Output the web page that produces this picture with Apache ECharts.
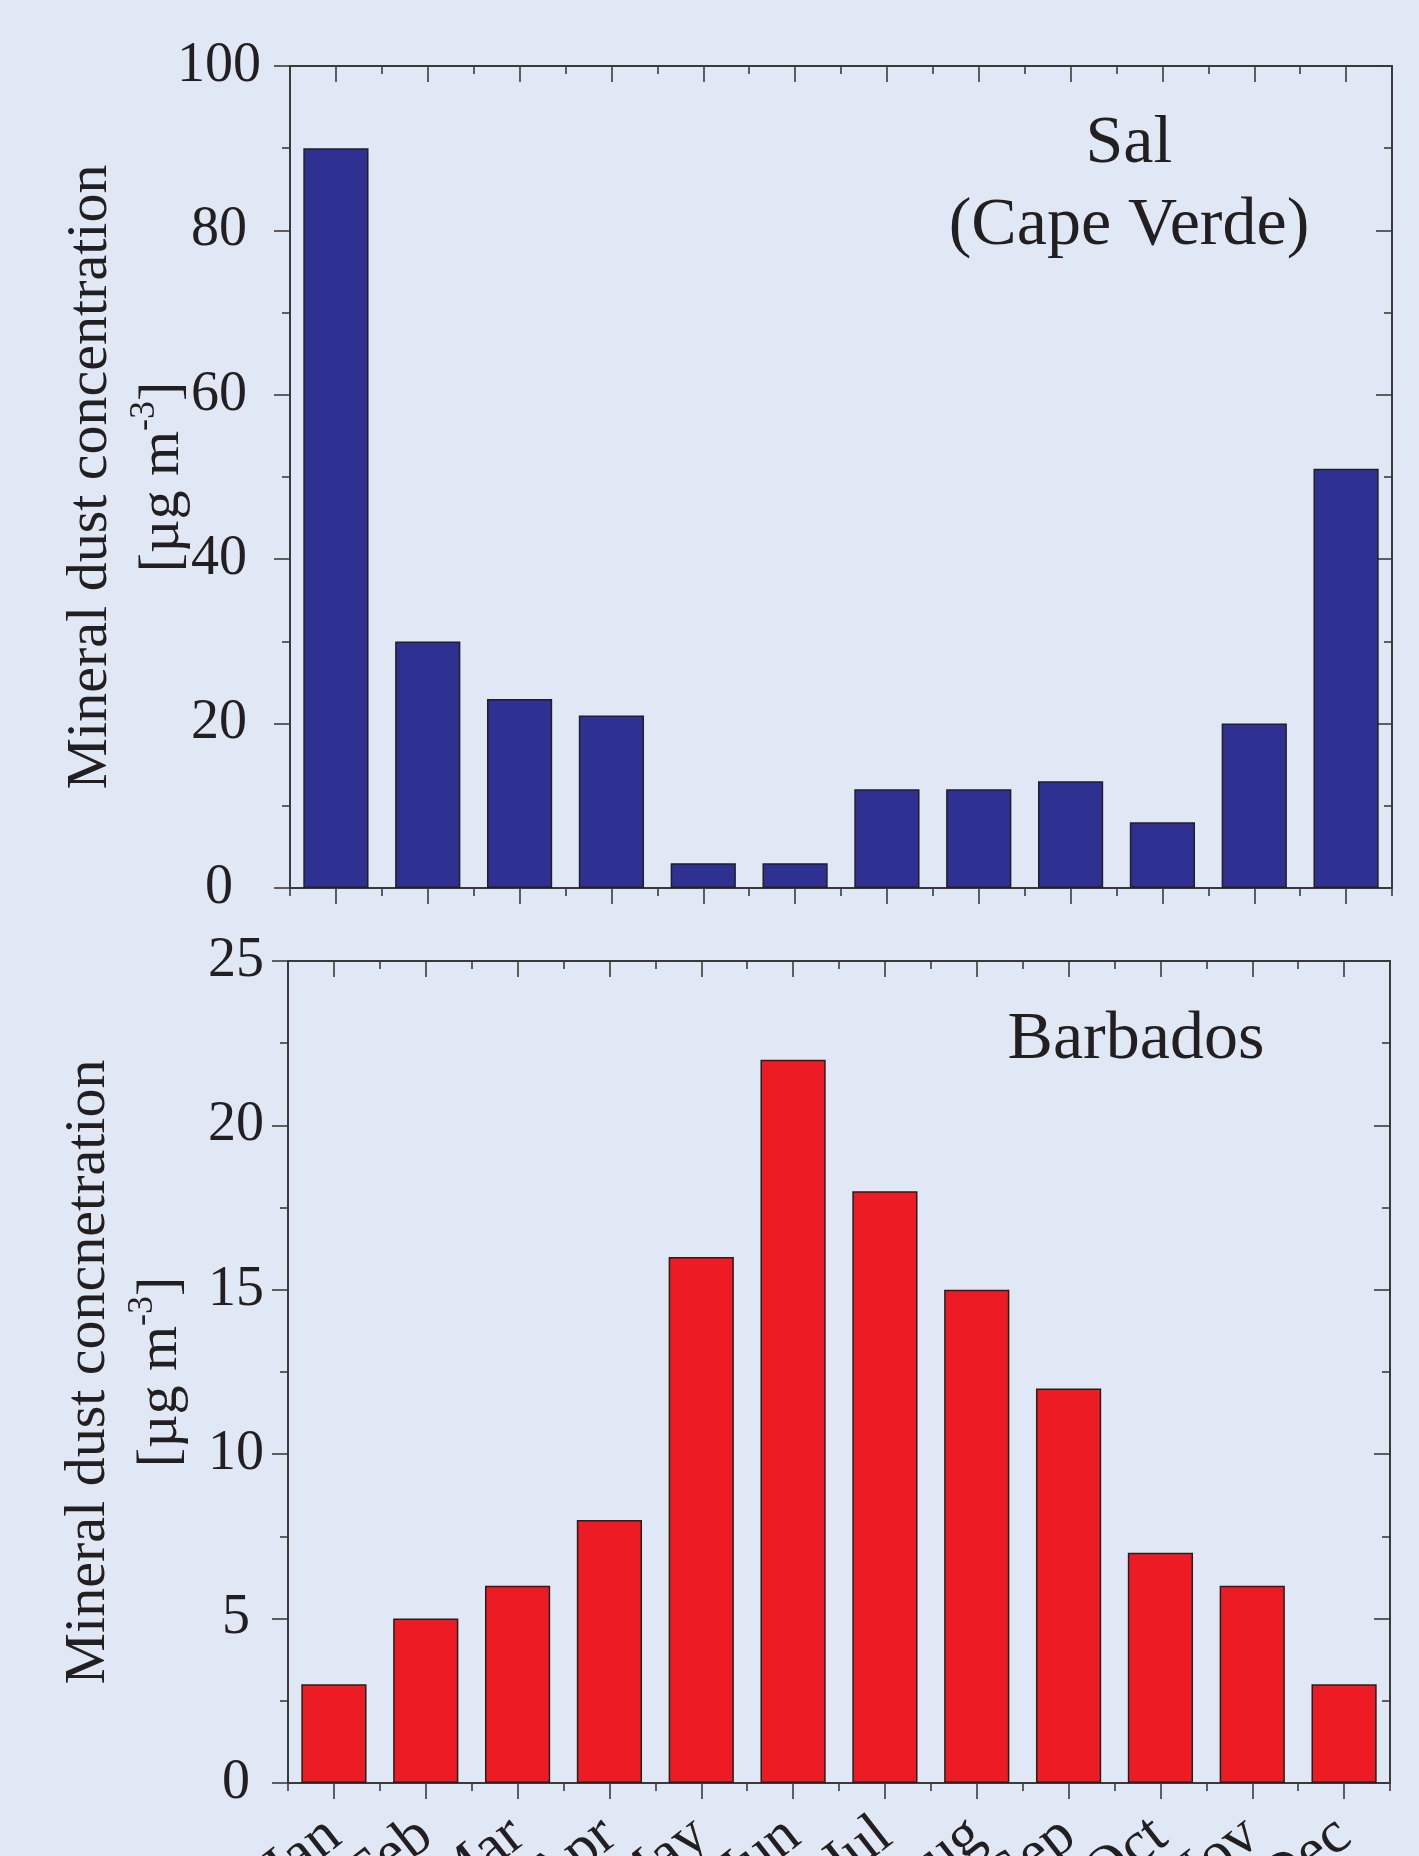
<!DOCTYPE html>
<html>
<head>
<meta charset="utf-8">
<title>Mineral dust concentration — Sal and Barbados</title>
<script src="https://cdn.jsdelivr.net/npm/echarts@6/dist/echarts.min.js"></script>
<style>
  html, body { margin: 0; padding: 0; background: #e1e8f5; }
  #chart { width: 1419px; height: 1856px; }
</style>
</head>
<body>
<div id="chart"></div>
<script>
// Monthly mean mineral dust concentrations [µg m-3]
const months = ['Jan', 'Feb', 'Mar', 'Apr', 'May', 'Jun', 'Jul', 'Aug', 'Sep', 'Oct', 'Nov', 'Dec'];
const salDust = [90, 30, 23, 21, 3, 3, 12, 12, 13, 8, 20, 51];
const barbadosDust = [3, 5, 6, 8, 16, 22, 18, 15, 12, 7, 6, 3];

// Value-axis ranges and tick steps
const salAxis = { min: 0, max: 100, interval: 20 };
const barbadosAxis = { min: 0, max: 25, interval: 5 };

const SERIF = '"Liberation Serif", "Times New Roman", Times, serif';
const INK = '#231f20';
const AXIS = '#3a3a3a';

const nameRich = {
  t: { fontFamily: SERIF, fontSize: 58, color: INK, lineHeight: 72 },
  s: { fontFamily: SERIF, fontSize: 36, color: INK, lineHeight: 36, verticalAlign: 'top' }
};

// A boxed frame: ticks at month centres (long) and month boundaries (short),
// outward on the bottom edge, inward on the top edge.
function frameXAxes(gridIndex, showLabels) {
  const base = {
    type: 'category',
    data: months,
    gridIndex: gridIndex,
    boundaryGap: true,
    splitLine: { show: false }
  };
  return [
    Object.assign({}, base, {
      position: 'bottom',
      axisLine: { show: true, onZero: false, lineStyle: { color: AXIS, width: 2 } },
      axisTick: { show: true, alignWithLabel: true, length: 16, lineStyle: { color: AXIS, width: 1.6 } },
      axisLabel: {
        show: showLabels, interval: 0, rotate: 38, margin: 46,
        fontFamily: SERIF, fontSize: 60, color: INK
      }
    }),
    Object.assign({}, base, {
      position: 'bottom',
      axisLine: { show: false, onZero: false },
      axisTick: { show: true, length: 8, lineStyle: { color: AXIS, width: 1.6 } },
      axisLabel: { show: false }
    }),
    Object.assign({}, base, {
      position: 'top',
      axisLine: { show: true, onZero: false, lineStyle: { color: AXIS, width: 2 } },
      axisTick: { show: true, inside: true, alignWithLabel: true, length: 16, lineStyle: { color: AXIS, width: 1.6 } },
      axisLabel: { show: false }
    }),
    Object.assign({}, base, {
      position: 'top',
      axisLine: { show: false, onZero: false },
      axisTick: { show: true, inside: true, length: 8, lineStyle: { color: AXIS, width: 1.6 } },
      axisLabel: { show: false }
    })
  ];
}

function frameYAxes(gridIndex, range, name, labelMargin) {
  const tickStyle = { color: AXIS, width: 1.6 };
  return [
    {
      type: 'value',
      gridIndex: gridIndex,
      position: 'left',
      min: range.min, max: range.max, interval: range.interval,
      axisLine: { show: true, onZero: false, lineStyle: { color: AXIS, width: 2 } },
      axisTick: { show: true, length: 16, lineStyle: tickStyle },
      minorTick: { show: true, splitNumber: 2, length: 8, lineStyle: tickStyle },
      splitLine: { show: false },
      axisLabel: {
        show: true, margin: labelMargin, align: 'center',
        fontFamily: SERIF, fontSize: 56, color: INK
      },
      name: name,
      nameLocation: 'middle',
      nameRotate: 90,
      nameGap: 91,
      nameMoveOverlap: false,
      nameTextStyle: { rich: nameRich, align: 'center' }
    },
    {
      type: 'value',
      gridIndex: gridIndex,
      position: 'right',
      min: range.min, max: range.max, interval: range.interval,
      axisLine: { show: true, onZero: false, lineStyle: { color: AXIS, width: 2 } },
      axisTick: { show: true, inside: true, length: 16, lineStyle: tickStyle },
      minorTick: { show: true, splitNumber: 2, length: 8, lineStyle: tickStyle },
      splitLine: { show: false },
      axisLabel: { show: false }
    }
  ];
}

const chart = echarts.init(document.getElementById('chart'), null, { renderer: 'canvas' });

const option = {
  backgroundColor: '#e1e8f5',
  animation: false,
  grid: [
    { left: 290, right: 27, top: 66, height: 822, outerBoundsMode: 'none', containLabel: false },
    { left: 288, right: 29, top: 961, height: 822, outerBoundsMode: 'none', containLabel: false }
  ],
  xAxis: [].concat(frameXAxes(0, false), frameXAxes(1, true)),
  yAxis: [].concat(
    frameYAxes(0, salAxis, '{t|Mineral dust concentration}\n{t|[µg m}{s|-3}{t|]}', 71),
    frameYAxes(1, barbadosAxis, '{t|Mineral dust concnetration}\n{t|[µg m}{s|-3}{t|]}', 52)
  ),
  series: [
    {
      name: 'Sal (Cape Verde)',
      type: 'bar',
      xAxisIndex: 0,
      yAxisIndex: 0,
      data: salDust,
      barCategoryGap: '29%',
      itemStyle: { color: '#2e3192', borderColor: INK, borderWidth: 1.5 }
    },
    {
      name: 'Barbados',
      type: 'bar',
      xAxisIndex: 4,
      yAxisIndex: 2,
      data: barbadosDust,
      barCategoryGap: '29%',
      itemStyle: { color: '#ed1c24', borderColor: INK, borderWidth: 1.5 }
    }
  ],
  graphic: [
    {
      type: 'text', x: 1129, y: 144,
      style: { text: 'Sal', font: '68px ' + SERIF, fill: INK, align: 'center', verticalAlign: 'middle' }
    },
    {
      type: 'text', x: 1129, y: 226,
      style: { text: '(Cape Verde)', font: '68px ' + SERIF, fill: INK, align: 'center', verticalAlign: 'middle' }
    },
    {
      type: 'text', x: 1136, y: 1040,
      style: { text: 'Barbados', font: '68px ' + SERIF, fill: INK, align: 'center', verticalAlign: 'middle' }
    }
  ]
};

chart.setOption(option);
</script>
</body>
</html>
